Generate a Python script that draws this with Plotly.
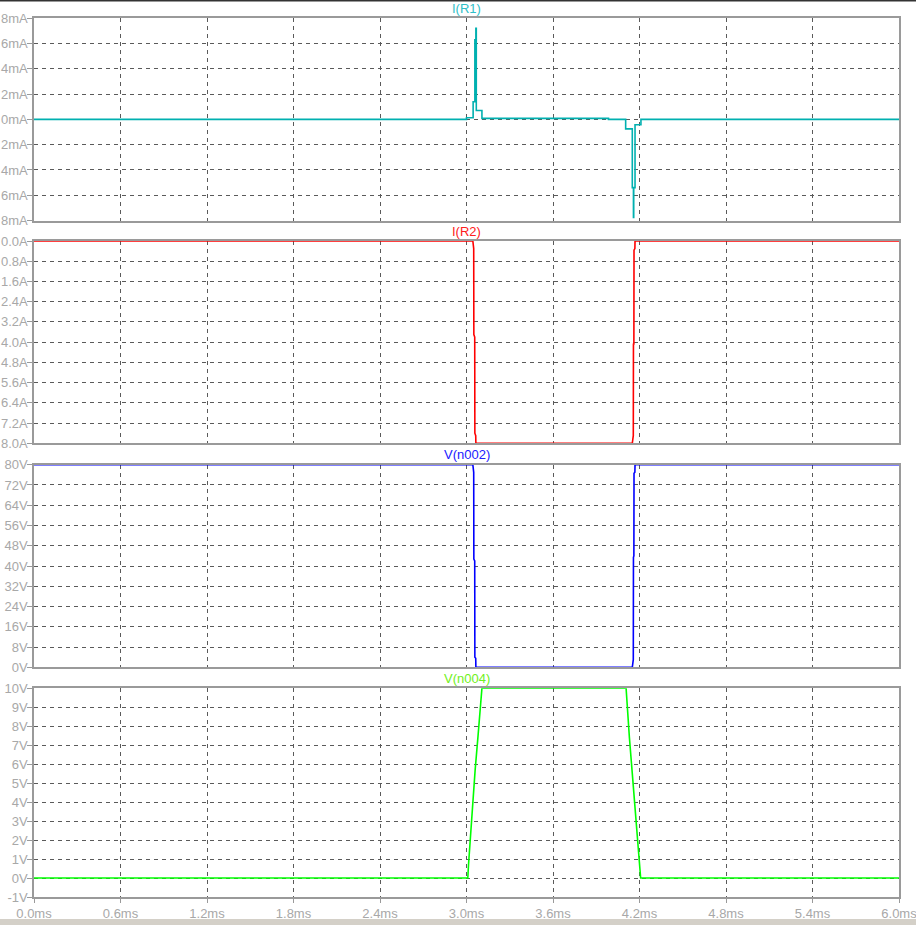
import plotly.graph_objects as go

# ---------------- data (time in ms) ----------------
t_ir1 = [0.0, 3.0, 3.046, 3.058, 3.065, 3.068, 3.107, 3.985, 4.104, 4.150, 4.158, 4.160, 4.169, 4.210, 6.0]
ir1_mA = [0.0, 0.13, 1.4, 6.3, 7.2, 0.7, 0.08, 0.0, -0.75, -5.4, -7.75, -5.4, -0.42, 0.0, 0.0]

t_ir2 = [0.0, 3.044, 3.050, 3.051, 3.057, 3.058, 3.064, 3.065, 4.150, 4.157, 4.158, 4.161, 4.162, 4.168, 4.169, 6.0]
ir2_A = [0.0, 0.0, -0.3, -3.7, -3.8, -7.6, -7.7, -8.0, -8.0, -7.7, -4.05, -4.1, -0.36, -0.3, 0.0, 0.0]

t_v2 = [0.0, 3.044, 3.050, 3.051, 3.057, 3.058, 3.064, 3.065, 4.150, 4.157, 4.158, 4.161, 4.162, 4.168, 4.169, 6.0]
v2_V = [80.0, 80.0, 77.0, 42.7, 42.0, 4.0, 3.6, 0.0, 0.0, 3.0, 43.4, 44.0, 76.6, 77.0, 80.0, 80.0]

t_v4 = [0.0, 3.009, 3.014, 3.026, 3.042, 3.060, 3.079, 3.097, 3.107, 4.107, 4.113, 4.130, 4.148, 4.167, 4.183, 4.201, 4.208, 6.0]
v4_V = [0.0, 0.0, 0.7, 2.1, 3.9, 5.7, 7.4, 9.2, 10.0, 10.0, 9.2, 7.4, 5.7, 3.9, 2.1, 0.7, 0.0, 0.0]

x_ticks = [0.0, 0.6, 1.2, 1.8, 2.4, 3.0, 3.6, 4.2, 4.8, 5.4, 6.0]
x_labels = ["0.0ms", "0.6ms", "1.2ms", "1.8ms", "2.4ms", "3.0ms", "3.6ms", "4.2ms", "4.8ms", "5.4ms", "6.0ms"]

# tick labels as they appear in the reference (leading minus signs are cut off there)
y1_ticks = [8, 6, 4, 2, 0, -2, -4, -6, -8]
y1_labels = ["8mA", "6mA", "4mA", "2mA", "0mA", "2mA", "4mA", "6mA", "8mA"]
y2_ticks = [0.0, -0.8, -1.6, -2.4, -3.2, -4.0, -4.8, -5.6, -6.4, -7.2, -8.0]
y2_labels = ["0.0A", "0.8A", "1.6A", "2.4A", "3.2A", "4.0A", "4.8A", "5.6A", "6.4A", "7.2A", "8.0A"]
y3_ticks = [80, 72, 64, 56, 48, 40, 32, 24, 16, 8, 0]
y3_labels = ["80V", "72V", "64V", "56V", "48V", "40V", "32V", "24V", "16V", "8V", "0V"]
y4_ticks = [10, 9, 8, 7, 6, 5, 4, 3, 2, 1, 0, -1]
y4_labels = ["10V", "9V", "8V", "7V", "6V", "5V", "4V", "3V", "2V", "1V", "0V", "-1V"]

names = ["I(R1)", "I(R2)", "V(n002)", "V(n004)"]
colors = ["#00b0b0", "#ff0000", "#0000ff", "#00ff00"]
title_colors = ["#30c0c8", "#ff2020", "#2020ff", "#70f020"]
shapes_line = ["hv", "linear", "linear", "linear"]

W, H = 916, 925
# panel pixel extents (top, bottom)
panels = [(18.3, 220.5), (241.0, 443.3), (464.7, 667.3), (688.3, 897.0)]
domains = [[1 - b / H, 1 - t / H] for t, b in panels]

fig = go.Figure()
series = [(t_ir1, ir1_mA), (t_ir2, ir2_A), (t_v2, v2_V), (t_v4, v4_V)]
for i, (tx, ty) in enumerate(series):
    fig.add_trace(go.Scatter(
        x=tx, y=ty, mode="lines",
        line=dict(color=colors[i], width=1.6, shape=shapes_line[i]),
        xaxis="x" if i == 0 else f"x{i+1}",
        yaxis="y" if i == 0 else f"y{i+1}",
        showlegend=False, hoverinfo="skip"))

gray = "#9a9a9a"
grid = "#5a5a5a"
font_lbl = dict(family="Liberation Sans, Arial, sans-serif", size=13, color="#a8a8a8")

yranges = [[-8, 8], [-8, 0], [0, 80], [-1, 10]]
yticks = [(y1_ticks, y1_labels), (y2_ticks, y2_labels), (y3_ticks, y3_labels), (y4_ticks, y4_labels)]

layout = dict(
    width=W, height=H,
    margin=dict(l=34, r=17, t=0, b=0),
    paper_bgcolor="white", plot_bgcolor="white",
    template="none",
    showlegend=False,
)
for i in range(4):
    xa = "xaxis" if i == 0 else f"xaxis{i+1}"
    ya = "yaxis" if i == 0 else f"yaxis{i+1}"
    yref = "y" if i == 0 else f"y{i+1}"
    xref = "x" if i == 0 else f"x{i+1}"
    last = (i == 3)
    layout[xa] = dict(
        domain=[0, 1], anchor=yref, range=[0, 6],
        tickvals=x_ticks, ticktext=x_labels,
        showticklabels=last, ticks="outside" if last else "",
        ticklen=4, tickcolor=gray, ticklabeloverflow="allow",
        showgrid=True, gridcolor=grid, gridwidth=1, griddash="4px,4px",
        showline=True, linecolor=gray, linewidth=1.5, mirror=True,
        zeroline=False, automargin=False, tickfont=font_lbl,
        matches=None if i == 0 else "x",
    )
    tv, tl = yticks[i]
    layout[ya] = dict(
        domain=domains[i], anchor=xref, range=yranges[i],
        tickvals=tv, ticktext=tl,
        ticks="outside", ticklen=5, tickcolor=gray,
        ticklabeloverflow="allow", ticklabelstandoff=-3,
        showgrid=True, gridcolor=grid, gridwidth=1, griddash="4px,4px",
        showline=True, linecolor=gray, linewidth=1.5, mirror=True,
        zeroline=False, automargin=False, tickfont=font_lbl,
    )
fig.update_layout(**layout)

# panel titles
for i in range(4):
    top = panels[i][0]
    fig.add_annotation(
        text=names[i], xref="paper", yref="paper",
        x=0.5, y=1 - (top - 10) / H, xanchor="center", yanchor="middle",
        showarrow=False,
        font=dict(family="Liberation Sans, Arial, sans-serif", size=13, color=title_colors[i]))

# window chrome: top dark line and bottom scrollbar band
fig.add_shape(type="rect", xref="paper", yref="paper",
              x0=-0.05, x1=1.05, y0=1 - 1.5 / H, y1=1.01,
              line=dict(width=0), fillcolor="#333333", layer="above")
fig.add_shape(type="rect", xref="paper", yref="paper",
              x0=-0.05, x1=1.05, y0=-0.01, y1=(H - 919) / H,
              line=dict(width=0), fillcolor="#d4d0c8", layer="above")

fig.write_html("out.html",
               config={"displayModeBar": False},
               post_script="document.body.style.margin='0px';document.body.style.overflow='hidden';")
